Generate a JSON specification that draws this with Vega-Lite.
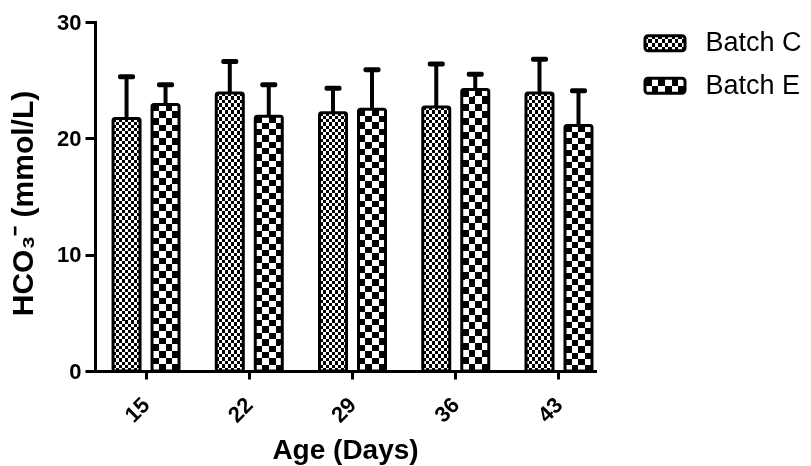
{
  "$schema": "https://vega.github.io/schema/vega-lite/v6.json",
  "background": "white",
  "padding": {"left": 8, "top": 11, "right": 0, "bottom": 0},
  "config": {
    "font": "Liberation Sans",
    "view": {"stroke": null},
    "axis": {"labelColor": "black", "titleColor": "black", "domainColor": "black", "tickColor": "black", "grid": false}
  },
  "datasets": {
    "hco3": [
      {"age": "15", "batch": "Batch C", "mean": 21.7, "upper": 25.3},
      {"age": "15", "batch": "Batch E", "mean": 22.9, "upper": 24.6},
      {"age": "22", "batch": "Batch C", "mean": 23.9, "upper": 26.6},
      {"age": "22", "batch": "Batch E", "mean": 21.9, "upper": 24.6},
      {"age": "29", "batch": "Batch C", "mean": 22.2, "upper": 24.3},
      {"age": "29", "batch": "Batch E", "mean": 22.5, "upper": 25.9},
      {"age": "36", "batch": "Batch C", "mean": 22.7, "upper": 26.4},
      {"age": "36", "batch": "Batch E", "mean": 24.2, "upper": 25.5},
      {"age": "43", "batch": "Batch C", "mean": 23.9, "upper": 26.8},
      {"age": "43", "batch": "Batch E", "mean": 21.1, "upper": 24.1}
    ],
    "legend": [{"batch": "Batch C"}, {"batch": "Batch E"}]
  },
  "bounds": "flush",
  "spacing": 50,
  "hconcat": [
    {
      "width": 500,
      "height": 349,
      "data": {"name": "hco3"},
      "encoding": {
        "x": {
          "field": "age", "type": "ordinal",
          "scale": {"type": "band", "paddingInner": 0.3608, "paddingOuter": 0.102, "align": 0.857},
          "axis": {
            "title": "Age (Days)", "titleFontSize": 28, "titleFontWeight": "bold", "titlePadding": 10,
            "labelAngle": -45, "labelAlign": "right", "labelBaseline": "middle", "labelPadding": 22,
            "labelFontSize": 22, "labelFontWeight": "bold", "labelOverlap": false,
            "tickSize": 8, "tickWidth": 3, "domainWidth": 3, "domainCap": "square"
          }
        },
        "xOffset": {"field": "batch", "type": "nominal", "scale": {"paddingInner": 0.3077, "paddingOuter": 0}}
      },
      "layer": [
        {
          "mark": {"type": "rect", "cornerRadius": 2},
          "encoding": {
            "y": {
              "field": "mean", "type": "quantitative", "title": "HCO₃⁻ (mmol/L)",
              "scale": {"domain": [0, 30], "nice": false, "zero": true},
              "axis": {
                "values": [0, 10, 20, 30], "titleFontSize": 30, "titleFontWeight": "bold", "titlePadding": 18, "titleY": 181,
                "labelFontSize": 22, "labelFontWeight": "bold", "labelPadding": 4,
                "tickSize": 10, "tickWidth": 3, "domainWidth": 3, "domainCap": "square"
              }
            },
            "y2": {"datum": 0},
            "fill": {
              "condition": {"test": "datum.batch === 'Batch C'", "value": {"gradient": "linear", "x1": 0, "y1": 0, "x2": 0.0001, "y2": 1, "stops": [{"offset":0,"color":"#000"},{"offset":0.0125,"color":"#000"},{"offset":0.0125,"color":"#fff"},{"offset":0.025,"color":"#fff"},{"offset":0.025,"color":"#000"},{"offset":0.0375,"color":"#000"},{"offset":0.0375,"color":"#fff"},{"offset":0.05,"color":"#fff"},{"offset":0.05,"color":"#000"},{"offset":0.0625,"color":"#000"},{"offset":0.0625,"color":"#fff"},{"offset":0.075,"color":"#fff"},{"offset":0.075,"color":"#000"},{"offset":0.0875,"color":"#000"},{"offset":0.0875,"color":"#fff"},{"offset":0.1,"color":"#fff"},{"offset":0.1,"color":"#000"},{"offset":0.1125,"color":"#000"},{"offset":0.1125,"color":"#fff"},{"offset":0.125,"color":"#fff"},{"offset":0.125,"color":"#000"},{"offset":0.1375,"color":"#000"},{"offset":0.1375,"color":"#fff"},{"offset":0.15,"color":"#fff"},{"offset":0.15,"color":"#000"},{"offset":0.1625,"color":"#000"},{"offset":0.1625,"color":"#fff"},{"offset":0.175,"color":"#fff"},{"offset":0.175,"color":"#000"},{"offset":0.1875,"color":"#000"},{"offset":0.1875,"color":"#fff"},{"offset":0.2,"color":"#fff"},{"offset":0.2,"color":"#000"},{"offset":0.2125,"color":"#000"},{"offset":0.2125,"color":"#fff"},{"offset":0.225,"color":"#fff"},{"offset":0.225,"color":"#000"},{"offset":0.2375,"color":"#000"},{"offset":0.2375,"color":"#fff"},{"offset":0.25,"color":"#fff"},{"offset":0.25,"color":"#000"},{"offset":0.2625,"color":"#000"},{"offset":0.2625,"color":"#fff"},{"offset":0.275,"color":"#fff"},{"offset":0.275,"color":"#000"},{"offset":0.2875,"color":"#000"},{"offset":0.2875,"color":"#fff"},{"offset":0.3,"color":"#fff"},{"offset":0.3,"color":"#000"},{"offset":0.3125,"color":"#000"},{"offset":0.3125,"color":"#fff"},{"offset":0.325,"color":"#fff"},{"offset":0.325,"color":"#000"},{"offset":0.3375,"color":"#000"},{"offset":0.3375,"color":"#fff"},{"offset":0.35,"color":"#fff"},{"offset":0.35,"color":"#000"},{"offset":0.3625,"color":"#000"},{"offset":0.3625,"color":"#fff"},{"offset":0.375,"color":"#fff"},{"offset":0.375,"color":"#000"},{"offset":0.3875,"color":"#000"},{"offset":0.3875,"color":"#fff"},{"offset":0.4,"color":"#fff"},{"offset":0.4,"color":"#000"},{"offset":0.4125,"color":"#000"},{"offset":0.4125,"color":"#fff"},{"offset":0.425,"color":"#fff"},{"offset":0.425,"color":"#000"},{"offset":0.4375,"color":"#000"},{"offset":0.4375,"color":"#fff"},{"offset":0.45,"color":"#fff"},{"offset":0.45,"color":"#000"},{"offset":0.4625,"color":"#000"},{"offset":0.4625,"color":"#fff"},{"offset":0.475,"color":"#fff"},{"offset":0.475,"color":"#000"},{"offset":0.4875,"color":"#000"},{"offset":0.4875,"color":"#fff"},{"offset":0.5,"color":"#fff"},{"offset":0.5,"color":"#000"},{"offset":0.5125,"color":"#000"},{"offset":0.5125,"color":"#fff"},{"offset":0.525,"color":"#fff"},{"offset":0.525,"color":"#000"},{"offset":0.5375,"color":"#000"},{"offset":0.5375,"color":"#fff"},{"offset":0.55,"color":"#fff"},{"offset":0.55,"color":"#000"},{"offset":0.5625,"color":"#000"},{"offset":0.5625,"color":"#fff"},{"offset":0.575,"color":"#fff"},{"offset":0.575,"color":"#000"},{"offset":0.5875,"color":"#000"},{"offset":0.5875,"color":"#fff"},{"offset":0.6,"color":"#fff"},{"offset":0.6,"color":"#000"},{"offset":0.6125,"color":"#000"},{"offset":0.6125,"color":"#fff"},{"offset":0.625,"color":"#fff"},{"offset":0.625,"color":"#000"},{"offset":0.6375,"color":"#000"},{"offset":0.6375,"color":"#fff"},{"offset":0.65,"color":"#fff"},{"offset":0.65,"color":"#000"},{"offset":0.6625,"color":"#000"},{"offset":0.6625,"color":"#fff"},{"offset":0.675,"color":"#fff"},{"offset":0.675,"color":"#000"},{"offset":0.6875,"color":"#000"},{"offset":0.6875,"color":"#fff"},{"offset":0.7,"color":"#fff"},{"offset":0.7,"color":"#000"},{"offset":0.7125,"color":"#000"},{"offset":0.7125,"color":"#fff"},{"offset":0.725,"color":"#fff"},{"offset":0.725,"color":"#000"},{"offset":0.7375,"color":"#000"},{"offset":0.7375,"color":"#fff"},{"offset":0.75,"color":"#fff"},{"offset":0.75,"color":"#000"},{"offset":0.7625,"color":"#000"},{"offset":0.7625,"color":"#fff"},{"offset":0.775,"color":"#fff"},{"offset":0.775,"color":"#000"},{"offset":0.7875,"color":"#000"},{"offset":0.7875,"color":"#fff"},{"offset":0.8,"color":"#fff"},{"offset":0.8,"color":"#000"},{"offset":0.8125,"color":"#000"},{"offset":0.8125,"color":"#fff"},{"offset":0.825,"color":"#fff"},{"offset":0.825,"color":"#000"},{"offset":0.8375,"color":"#000"},{"offset":0.8375,"color":"#fff"},{"offset":0.85,"color":"#fff"},{"offset":0.85,"color":"#000"},{"offset":0.8625,"color":"#000"},{"offset":0.8625,"color":"#fff"},{"offset":0.875,"color":"#fff"},{"offset":0.875,"color":"#000"},{"offset":0.8875,"color":"#000"},{"offset":0.8875,"color":"#fff"},{"offset":0.9,"color":"#fff"},{"offset":0.9,"color":"#000"},{"offset":0.9125,"color":"#000"},{"offset":0.9125,"color":"#fff"},{"offset":0.925,"color":"#fff"},{"offset":0.925,"color":"#000"},{"offset":0.9375,"color":"#000"},{"offset":0.9375,"color":"#fff"},{"offset":0.95,"color":"#fff"},{"offset":0.95,"color":"#000"},{"offset":0.9625,"color":"#000"},{"offset":0.9625,"color":"#fff"},{"offset":0.975,"color":"#fff"},{"offset":0.975,"color":"#000"},{"offset":0.9875,"color":"#000"},{"offset":0.9875,"color":"#fff"},{"offset":1,"color":"#fff"}]}},
              "value": {"gradient": "linear", "x1": 0, "y1": 0, "x2": 0.0001, "y2": 1, "stops": [{"offset":0,"color":"#000"},{"offset":0.025,"color":"#000"},{"offset":0.025,"color":"#fff"},{"offset":0.05,"color":"#fff"},{"offset":0.05,"color":"#000"},{"offset":0.075,"color":"#000"},{"offset":0.075,"color":"#fff"},{"offset":0.1,"color":"#fff"},{"offset":0.1,"color":"#000"},{"offset":0.125,"color":"#000"},{"offset":0.125,"color":"#fff"},{"offset":0.15,"color":"#fff"},{"offset":0.15,"color":"#000"},{"offset":0.175,"color":"#000"},{"offset":0.175,"color":"#fff"},{"offset":0.2,"color":"#fff"},{"offset":0.2,"color":"#000"},{"offset":0.225,"color":"#000"},{"offset":0.225,"color":"#fff"},{"offset":0.25,"color":"#fff"},{"offset":0.25,"color":"#000"},{"offset":0.275,"color":"#000"},{"offset":0.275,"color":"#fff"},{"offset":0.3,"color":"#fff"},{"offset":0.3,"color":"#000"},{"offset":0.325,"color":"#000"},{"offset":0.325,"color":"#fff"},{"offset":0.35,"color":"#fff"},{"offset":0.35,"color":"#000"},{"offset":0.375,"color":"#000"},{"offset":0.375,"color":"#fff"},{"offset":0.4,"color":"#fff"},{"offset":0.4,"color":"#000"},{"offset":0.425,"color":"#000"},{"offset":0.425,"color":"#fff"},{"offset":0.45,"color":"#fff"},{"offset":0.45,"color":"#000"},{"offset":0.475,"color":"#000"},{"offset":0.475,"color":"#fff"},{"offset":0.5,"color":"#fff"},{"offset":0.5,"color":"#000"},{"offset":0.525,"color":"#000"},{"offset":0.525,"color":"#fff"},{"offset":0.55,"color":"#fff"},{"offset":0.55,"color":"#000"},{"offset":0.575,"color":"#000"},{"offset":0.575,"color":"#fff"},{"offset":0.6,"color":"#fff"},{"offset":0.6,"color":"#000"},{"offset":0.625,"color":"#000"},{"offset":0.625,"color":"#fff"},{"offset":0.65,"color":"#fff"},{"offset":0.65,"color":"#000"},{"offset":0.675,"color":"#000"},{"offset":0.675,"color":"#fff"},{"offset":0.7,"color":"#fff"},{"offset":0.7,"color":"#000"},{"offset":0.725,"color":"#000"},{"offset":0.725,"color":"#fff"},{"offset":0.75,"color":"#fff"},{"offset":0.75,"color":"#000"},{"offset":0.775,"color":"#000"},{"offset":0.775,"color":"#fff"},{"offset":0.8,"color":"#fff"},{"offset":0.8,"color":"#000"},{"offset":0.825,"color":"#000"},{"offset":0.825,"color":"#fff"},{"offset":0.85,"color":"#fff"},{"offset":0.85,"color":"#000"},{"offset":0.875,"color":"#000"},{"offset":0.875,"color":"#fff"},{"offset":0.9,"color":"#fff"},{"offset":0.9,"color":"#000"},{"offset":0.925,"color":"#000"},{"offset":0.925,"color":"#fff"},{"offset":0.95,"color":"#fff"},{"offset":0.95,"color":"#000"},{"offset":0.975,"color":"#000"},{"offset":0.975,"color":"#fff"},{"offset":1,"color":"#fff"}]}
            }
          }
        },
        {
          "mark": {"type": "rect", "cornerRadius": 2, "blend": "difference"},
          "encoding": {
            "y": {"field": "mean", "type": "quantitative", "title": "HCO₃⁻ (mmol/L)"},
            "y2": {"datum": 0},
            "fill": {
              "condition": {"test": "datum.batch === 'Batch C'", "value": {"gradient": "linear", "x1": 0, "y1": 0, "x2": 1, "y2": 0, "stops": [{"offset":0,"color":"#000"},{"offset":0.1111,"color":"#000"},{"offset":0.1111,"color":"#fff"},{"offset":0.2222,"color":"#fff"},{"offset":0.2222,"color":"#000"},{"offset":0.3333,"color":"#000"},{"offset":0.3333,"color":"#fff"},{"offset":0.4444,"color":"#fff"},{"offset":0.4444,"color":"#000"},{"offset":0.5556,"color":"#000"},{"offset":0.5556,"color":"#fff"},{"offset":0.6667,"color":"#fff"},{"offset":0.6667,"color":"#000"},{"offset":0.7778,"color":"#000"},{"offset":0.7778,"color":"#fff"},{"offset":0.8889,"color":"#fff"},{"offset":0.8889,"color":"#000"},{"offset":1,"color":"#000"}]}},
              "value": {"gradient": "linear", "x1": 0, "y1": 0, "x2": 1, "y2": 0, "stops": [{"offset":0,"color":"#000"},{"offset":0.25,"color":"#000"},{"offset":0.25,"color":"#fff"},{"offset":0.5,"color":"#fff"},{"offset":0.5,"color":"#000"},{"offset":0.75,"color":"#000"},{"offset":0.75,"color":"#fff"},{"offset":1,"color":"#fff"}]}
            }
          }
        },
        {
          "mark": {"type": "rect", "cornerRadius": 2, "fill": "transparent", "stroke": "black", "strokeWidth": 3},
          "encoding": {"y": {"field": "mean", "type": "quantitative", "title": "HCO₃⁻ (mmol/L)"}, "y2": {"datum": 0}}
        },
        {
          "mark": {"type": "rule", "color": "black", "strokeWidth": 4},
          "encoding": {
            "y": {"field": "mean", "type": "quantitative", "title": "HCO₃⁻ (mmol/L)"},
            "y2": {"field": "upper"}
          }
        },
        {
          "mark": {"type": "tick", "color": "black", "opacity": 1, "thickness": 5, "size": 17, "cornerRadius": 2},
          "encoding": {"y": {"field": "upper", "type": "quantitative", "title": "HCO₃⁻ (mmol/L)"}}
        }
      ]
    },
    {
      "width": 40,
      "height": 85,
      "data": {"name": "legend"},
      "encoding": {
        "y": {
          "field": "batch", "type": "nominal",
          "scale": {"paddingInner": 0.647, "paddingOuter": 0.3235},
          "axis": {"orient": "right", "title": null, "domain": false, "ticks": false, "tickSize": 0, "labelPadding": 20, "labelFontSize": 27, "labelFontWeight": "normal", "labelColor": "black"}
        }
      },
      "layer": [
        {
          "mark": {"type": "rect", "cornerRadius": 3},
          "encoding": {
            "fill": {
              "condition": {"test": "datum.batch === 'Batch C'", "value": {"gradient": "linear", "x1": 0, "y1": 0, "x2": 0.0001, "y2": 1, "stops": [{"offset":0,"color":"#000"},{"offset":0.25,"color":"#000"},{"offset":0.25,"color":"#fff"},{"offset":0.5,"color":"#fff"},{"offset":0.5,"color":"#000"},{"offset":0.75,"color":"#000"},{"offset":0.75,"color":"#fff"},{"offset":1,"color":"#fff"}]}},
              "value": {"gradient": "linear", "x1": 0, "y1": 0, "x2": 0.0001, "y2": 1, "stops": [{"offset":0,"color":"#000"},{"offset":0.5,"color":"#000"},{"offset":0.5,"color":"#fff"},{"offset":1,"color":"#fff"}]}
            }
          }
        },
        {
          "mark": {"type": "rect", "cornerRadius": 3, "blend": "difference"},
          "encoding": {
            "fill": {
              "condition": {"test": "datum.batch === 'Batch C'", "value": {"gradient": "linear", "x1": 0, "y1": 0, "x2": 1, "y2": 0, "stops": [{"offset":0,"color":"#000"},{"offset":0.0833,"color":"#000"},{"offset":0.0833,"color":"#fff"},{"offset":0.1667,"color":"#fff"},{"offset":0.1667,"color":"#000"},{"offset":0.25,"color":"#000"},{"offset":0.25,"color":"#fff"},{"offset":0.3333,"color":"#fff"},{"offset":0.3333,"color":"#000"},{"offset":0.4167,"color":"#000"},{"offset":0.4167,"color":"#fff"},{"offset":0.5,"color":"#fff"},{"offset":0.5,"color":"#000"},{"offset":0.5833,"color":"#000"},{"offset":0.5833,"color":"#fff"},{"offset":0.6667,"color":"#fff"},{"offset":0.6667,"color":"#000"},{"offset":0.75,"color":"#000"},{"offset":0.75,"color":"#fff"},{"offset":0.8333,"color":"#fff"},{"offset":0.8333,"color":"#000"},{"offset":0.9167,"color":"#000"},{"offset":0.9167,"color":"#fff"},{"offset":1,"color":"#fff"}]}},
              "value": {"gradient": "linear", "x1": 0, "y1": 0, "x2": 1, "y2": 0, "stops": [{"offset":0,"color":"#000"},{"offset":0.1667,"color":"#000"},{"offset":0.1667,"color":"#fff"},{"offset":0.3333,"color":"#fff"},{"offset":0.3333,"color":"#000"},{"offset":0.5,"color":"#000"},{"offset":0.5,"color":"#fff"},{"offset":0.6667,"color":"#fff"},{"offset":0.6667,"color":"#000"},{"offset":0.8333,"color":"#000"},{"offset":0.8333,"color":"#fff"},{"offset":1,"color":"#fff"}]}
            }
          }
        },
        {
          "mark": {"type": "rect", "cornerRadius": 3, "fill": "transparent", "stroke": "black", "strokeWidth": 3}
        }
      ]
    }
  ]
}
